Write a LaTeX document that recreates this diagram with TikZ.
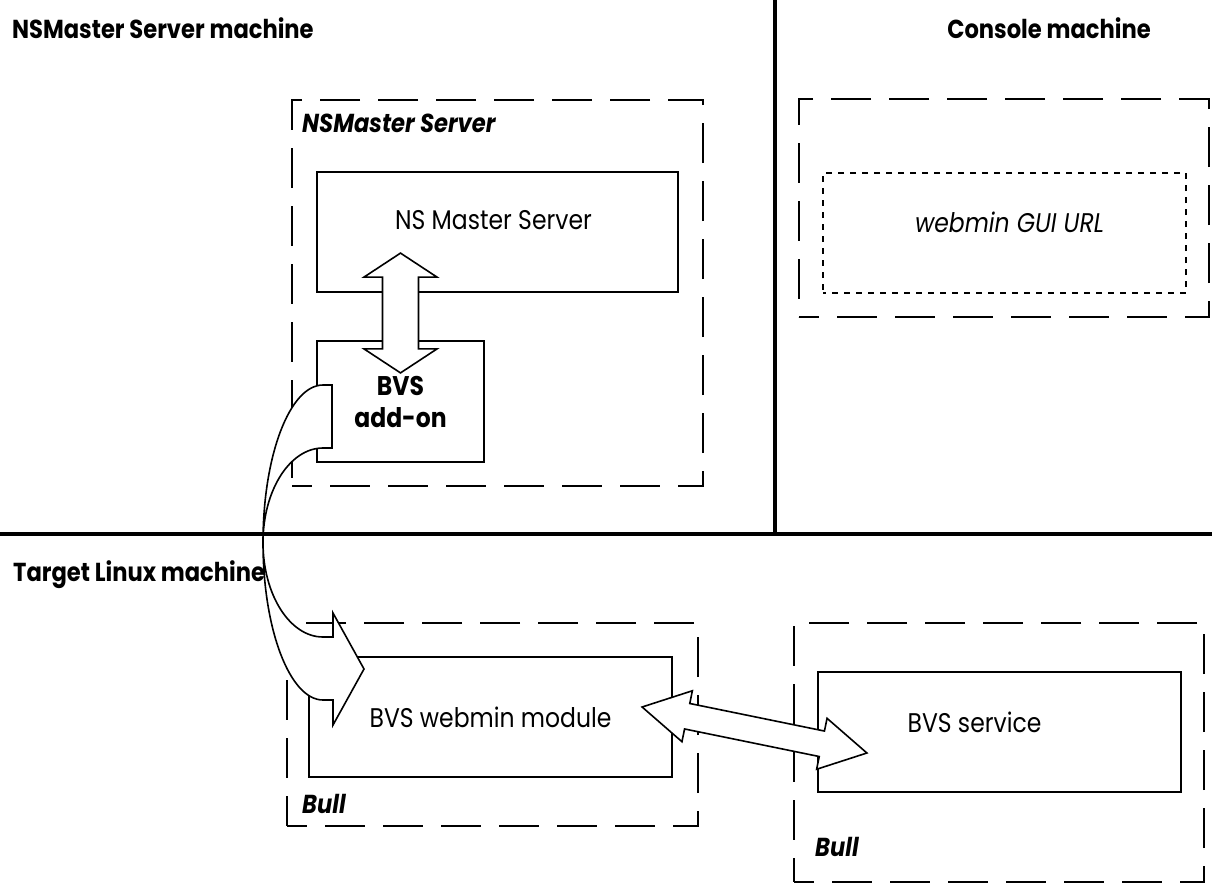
\documentclass[tikz,border=0pt]{standalone}
\usepackage{fontspec}
\setmainfont{Poppins}[FakeStretch=0.87]
\usetikzlibrary{calc,positioning}

\begin{document}
\begin{tikzpicture}[x=1pt, y=-1pt,
    frame/.style={draw, line width=2.2pt, dash pattern=on 40pt off 18pt, dash phase=20pt, inner sep=0pt},
    box/.style={draw, line width=2.2pt, inner sep=0pt},
    urlbox/.style={draw, line width=2pt, dash pattern=on 6pt off 6pt, dash phase=3pt, inner sep=0pt},
    heading/.style={font=\fontsize{26}{30}\selectfont\bfseries, inner sep=0pt},
    plain/.style={font=\fontsize{27}{32}\selectfont, inner sep=0pt},
    tag/.style={font=\fontsize{26}{30}\selectfont\bfseries\itshape, inner sep=0pt},
    fat/.style={draw, fill=white, line width=1.6pt, line join=miter}]

% Macro: fat double-headed arrow (from, to, head length, head half width, shaft half width)
\newcommand{\fatdouble}[5]{
    \draw[fat] (#1)
        -- ($(#1)!#3!(#2)!#4!90:(#2)$)
        -- ($(#1)!#3!(#2)!#5!90:(#2)$)
        -- ($(#2)!#3!(#1)!#5!-90:(#1)$)
        -- ($(#2)!#3!(#1)!#4!-90:(#1)$)
        -- (#2)
        -- ($(#2)!#3!(#1)!#4!90:(#1)$)
        -- ($(#2)!#3!(#1)!#5!90:(#1)$)
        -- ($(#1)!#3!(#2)!#5!-90:(#2)$)
        -- ($(#1)!#3!(#2)!#4!-90:(#2)$)
        -- cycle;
}

% Page
\fill[white] (0,0) rectangle (1212,891);
\useasboundingbox (0,0) rectangle (1212,891);

% Machine borders
\draw[line width=3.3pt] (775,0) -- (775,534);
\draw[line width=3.3pt] (0,534) -- (1212,534);

\node[heading, anchor=west] (nsmach) at (12,28) {NSMaster Server machine};
\node[heading] (conmach) at (1049,28) {Console machine};
\node[heading, anchor=west] (tgtmach) at (13,575) {Target Linux machine};

% NSMaster Server
\node[frame, minimum width=411, minimum height=386] (nsframe) at (497.5,293) {};
\node[tag, anchor=west] (nstag) at (302,123) {NSMaster Server};
\node[box, minimum width=361, minimum height=120] (nsbox) at (497.5,232) {};
\node[plain] (nslbl) at ($(nsbox.center)+(-4,-12)$) {NS Master Server};
\node[box, minimum width=167, minimum height=121, align=center,
      font=\fontsize{27}{32}\selectfont\bfseries] (addon) at (400.5,401.5) {BVS\\add-on};

% Console
\node[frame, minimum width=410, minimum height=218] (conframe) at (1004,208) {};
\node[urlbox, minimum width=363, minimum height=120] (guibox) at (1004.5,233) {};
\node[plain, font=\fontsize{27}{32}\selectfont\itshape] (guilbl) at ($(guibox.center)+(5,-11)$) {webmin GUI URL};

% Target Linux machine
\node[frame, minimum width=411, minimum height=203] (bullL) at (492.5,724.5) {};
\node[box, minimum width=363, minimum height=120, font=\fontsize{27}{32}\selectfont] (webmin) at (490.5,717) {BVS webmin module};
\node[tag, anchor=west] (bullLtag) at (302,804) {Bull};

\node[frame, minimum width=410, minimum height=259] (bullR) at (999,752.5) {};
\node[box, minimum width=363, minimum height=120] (service) at (999.5,732) {};
\node[plain] (servlbl) at ($(service.center)+(-25,-10)$) {BVS service};
\node[tag, anchor=west] (bullRtag) at (815,847) {Bull};

% Arrow ends
\coordinate (vtop) at ($(nsbox.south -| addon.north)+(0,-40)$);
\coordinate (vbot) at ($(addon.north)+(0,33)$);
\coordinate (hleft) at ($(webmin.east)+(-31,-10)$);
\coordinate (hright) at ($(service.west)+(50,21)$);

\fatdouble{vtop}{vbot}{24pt}{36.5pt}{18pt}
\fatdouble{hleft}{hright}{46pt}{26pt}{13pt}

% Curved arrow from add-on down to webmin module
\draw[fat] (332,385) -- (332,448) -- (323,448)
    arc[start angle=270, end angle=90, x radius=60, y radius=94.5]
    -- (333,637) -- (333,613) -- (364,669) -- (333,725) -- (333,700) -- (323,700)
    arc[start angle=90, end angle=270, x radius=60, y radius=157.5]
    -- cycle;

\end{tikzpicture}
\end{document}
